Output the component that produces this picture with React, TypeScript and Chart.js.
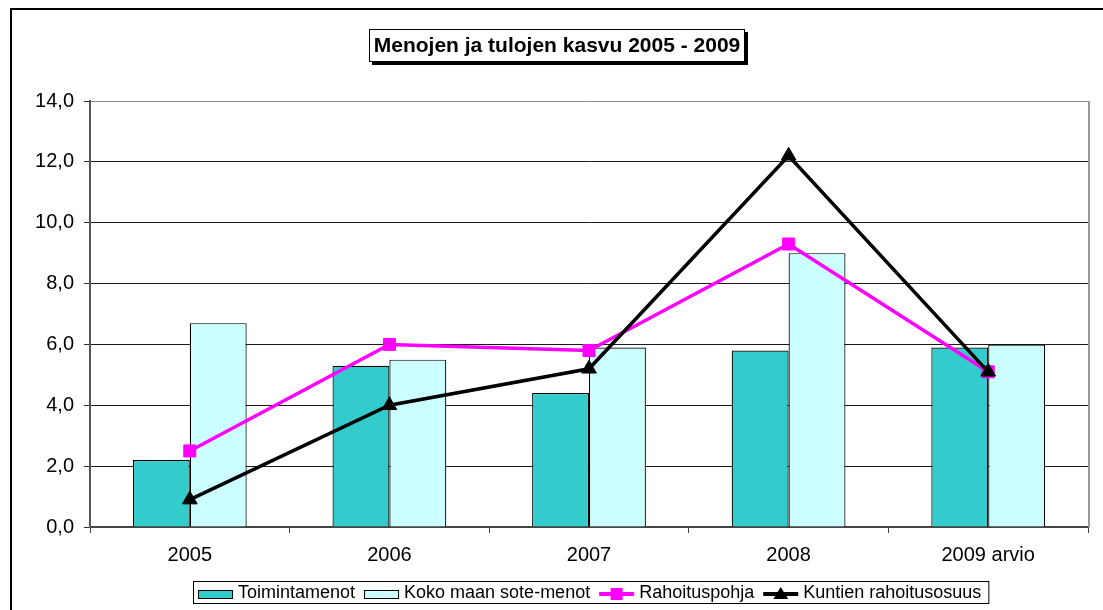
import React, { useEffect, useRef } from 'react';
import { Chart, registerables } from 'chart.js';

Chart.register(...registerables);

const categories = ['2005', '2006', '2007', '2008', '2009 arvio'];
const toimintamenot = [2.2, 5.3, 4.4, 5.8, 5.9];
const kokoMaanSoteMenot = [6.7, 5.5, 5.9, 9.0, 6.0];
const rahoituspohja = [2.5, 6.0, 5.8, 9.3, 5.1];
const kuntienRahoitusosuus = [0.9, 4.0, 5.2, 12.2, 5.1];
const seriesNames = ['Toimintamenot', 'Koko maan sote-menot', 'Rahoituspohja', 'Kuntien rahoitusosuus'];
const chartTitle = 'Menojen ja tulojen kasvu 2005 - 2009';
const yMin = 0;
const yMax = 14;
const yStep = 2;

const FONT = '"Liberation Sans", Arial, Helvetica, sans-serif';
const TEAL = '#33CCCC';
const LIGHT = '#CCFFFF';
const MAGENTA = '#FF00FF';
const BLACK = '#000000';

const decorPlugin = {
  id: 'decor',
  beforeDraw(chart: any) {
    const ctx = chart.ctx;
    ctx.save();
    ctx.fillStyle = '#ffffff';
    ctx.fillRect(0, 0, chart.width, chart.height);
    ctx.fillStyle = '#000000';
    ctx.fillRect(10, 8, chart.width, 2);
    ctx.fillRect(10, 8, 2, chart.height);
    ctx.restore();
  },
  afterDraw(chart: any) {
    const ctx = chart.ctx;
    const { right, top, bottom } = chart.chartArea;
    ctx.save();
    // plot area right border
    ctx.strokeStyle = '#9a9a9a';
    ctx.lineWidth = 2;
    ctx.beginPath();
    ctx.moveTo(right + 1, top);
    ctx.lineTo(right + 1, bottom);
    ctx.stroke();

    // title box with shadow
    const bx = 369, by = 29, bw = 376, bh = 33;
    ctx.fillStyle = '#000000';
    ctx.fillRect(bx + 3, by + 3, bw, bh);
    ctx.fillStyle = '#ffffff';
    ctx.fillRect(bx, by, bw, bh);
    ctx.strokeStyle = '#000000';
    ctx.lineWidth = 1;
    ctx.strokeRect(bx + 0.5, by + 0.5, bw - 1, bh - 1);
    ctx.fillStyle = '#000000';
    ctx.font = `bold 21px ${FONT}`;
    ctx.textAlign = 'center';
    ctx.textBaseline = 'middle';
    ctx.fillText(chartTitle, bx + bw / 2, by + bh / 2 + 1);

    // legend
    const ds = chart.data.datasets;
    ctx.font = `18px ${FONT}`;
    ctx.textAlign = 'left';
    ctx.textBaseline = 'middle';
    let x = 198;
    const cy = 594;
    const swW = 35;
    for (let i = 0; i < ds.length; i++) {
      const d = ds[i];
      if (d.type === 'line') {
        ctx.strokeStyle = d.borderColor;
        ctx.lineWidth = 4;
        ctx.beginPath();
        ctx.moveTo(x, cy);
        ctx.lineTo(x + swW, cy);
        ctx.stroke();
        ctx.fillStyle = d.borderColor;
        const cx = x + swW / 2;
        if (d.pointStyle === 'rect') {
          ctx.fillRect(cx - 6, cy - 6, 12, 12);
        } else {
          ctx.beginPath();
          ctx.moveTo(cx, cy - 7);
          ctx.lineTo(cx + 7.5, cy + 5);
          ctx.lineTo(cx - 7.5, cy + 5);
          ctx.closePath();
          ctx.fill();
        }
      } else {
        ctx.fillStyle = d.backgroundColor;
        ctx.fillRect(x, 590, swW, 8);
        ctx.strokeStyle = '#000000';
        ctx.lineWidth = 1;
        ctx.strokeRect(x + 0.5, 590.5, swW - 1, 8);
      }
      x += swW + 5;
      ctx.fillStyle = '#000000';
      ctx.fillText(d.label, x, cy - 0.5);
      x += ctx.measureText(d.label).width + 9;
    }
    const lx = 193;
    ctx.strokeStyle = '#000000';
    ctx.lineWidth = 1;
    ctx.strokeRect(lx + 0.5, 581.5, x - 9 + 7 - lx, 22);
    ctx.restore();
  },
};

export default function App() {
  const canvasRef = useRef<HTMLCanvasElement | null>(null);

  useEffect(() => {
    if (!canvasRef.current) return;
    const chart = new Chart(canvasRef.current, {
      type: 'bar',
      data: {
        labels: categories,
        datasets: [
          {
            type: 'bar',
            label: seriesNames[0],
            data: toimintamenot,
            backgroundColor: TEAL,
            borderColor: '#000000',
            borderWidth: 1.2,
            categoryPercentage: 0.57,
            barPercentage: 1,
            order: 2,
          },
          {
            type: 'bar',
            label: seriesNames[1],
            data: kokoMaanSoteMenot,
            backgroundColor: LIGHT,
            borderColor: '#000000',
            borderWidth: 1.2,
            categoryPercentage: 0.57,
            barPercentage: 1,
            order: 2,
          },
          {
            type: 'line',
            label: seriesNames[2],
            data: rahoituspohja,
            borderColor: MAGENTA,
            backgroundColor: MAGENTA,
            borderWidth: 3.5,
            pointStyle: 'rect',
            pointRadius: 8.5,
            pointBackgroundColor: MAGENTA,
            pointBorderColor: MAGENTA,
            pointBorderWidth: 1,
            tension: 0,
            order: 1,
          },
          {
            type: 'line',
            label: seriesNames[3],
            data: kuntienRahoitusosuus,
            borderColor: BLACK,
            backgroundColor: BLACK,
            borderWidth: 3.5,
            pointStyle: 'triangle',
            pointRadius: 8.5,
            pointBackgroundColor: BLACK,
            pointBorderColor: BLACK,
            pointBorderWidth: 1,
            tension: 0,
            order: 0,
          },
        ],
      } as any,
      options: {
        responsive: false,
        animation: false,
        devicePixelRatio: 1,
        layout: { padding: { left: 0, right: 15, top: 101, bottom: 43 } },
        plugins: {
          legend: { display: false },
          title: { display: false },
          tooltip: { enabled: false },
        },
        scales: {
          x: {
            afterFit: (scale: any) => {
              scale.height = 40;
            },
            grid: {
              display: true,
              drawOnChartArea: false,
              drawTicks: true,
              tickLength: 6,
              tickColor: '#444444',
              offset: true,
            },
            border: { display: true, color: '#444444', width: 2 },
            ticks: {
              color: '#000000',
              font: { family: FONT, size: 20 },
              padding: 10,
              maxRotation: 0,
            },
          },
          y: {
            min: yMin,
            max: yMax,
            afterFit: (scale: any) => {
              scale.width = 90;
            },
            grid: {
              color: (c: any) => (c.tick && c.tick.value === yMax ? '#8a8a8a' : '#1a1a1a'),
              lineWidth: 1,
              drawTicks: true,
              tickLength: 6,
              tickColor: '#333333',
            },
            border: { display: true, color: '#555555', width: 2 },
            ticks: {
              stepSize: yStep,
              color: '#000000',
              font: { family: FONT, size: 20 },
              padding: 10,
              callback: (v: any) => Number(v).toFixed(1).replace('.', ','),
            },
          },
        },
      } as any,
      plugins: [decorPlugin],
    });
    return () => chart.destroy();
  }, []);

  return (
    <div style={{ position: 'fixed', left: 0, top: 0, width: 1103, height: 610, overflow: 'hidden', background: '#fff' }}>
      <canvas ref={canvasRef} width={1103} height={610} style={{ display: 'block', width: 1103, height: 610 }} />
    </div>
  );
}
